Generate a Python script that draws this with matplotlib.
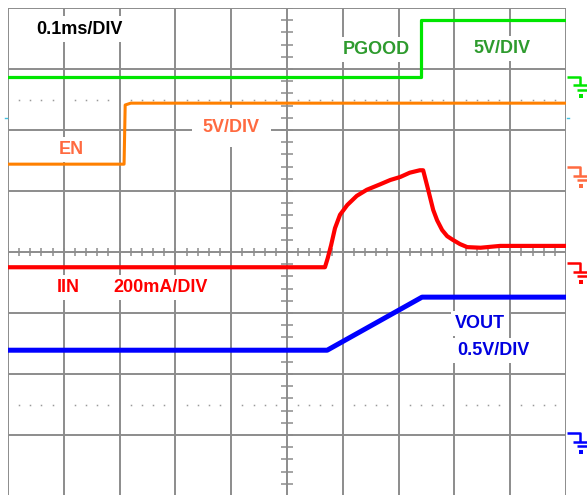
import numpy as np
import matplotlib.pyplot as plt

# all values in scope divisions: x 0..10, y -4..4 (0 = centre line)
pgood_x = [0.0, 7.40, 7.40, 10.0]
pgood_y = [2.87, 2.87, 3.80, 3.80]

en_x = [0.0, 2.08, 2.10, 2.20, 10.0]
en_y = [1.44, 1.44, 2.41, 2.44, 2.44]

iin_x = [0.0, 5.68, 5.73, 5.79, 5.86, 5.95, 6.08, 6.25, 6.43, 6.67, 6.85, 7.03,
         7.20, 7.38, 7.44, 7.53, 7.62, 7.69, 7.78, 7.87, 7.97, 8.10, 8.23, 8.47,
         8.82, 10.0]
iin_y = [-0.25, -0.25, -0.10, 0.11, 0.39, 0.61, 0.77, 0.92, 1.02, 1.11, 1.18, 1.23,
         1.30, 1.34, 1.34, 1.02, 0.69, 0.52, 0.36, 0.26, 0.20, 0.13, 0.08, 0.07,
         0.10, 0.10]

vout_x = [0.0, 5.72, 7.42, 10.0]
vout_y = [-1.61, -1.61, -0.74, -0.74]

# ground reference markers on the right edge
gnd_levels = [2.87, 1.39, -0.18, -2.97]
gnd_colors = ['#00e600', '#ff6a40', '#ff0000', '#0000ff']

GRID = '#8c8c8c'

fig = plt.figure(figsize=(5.87, 4.95), dpi=100)
ax = fig.add_axes([8 / 587, -1 / 495, 558 / 587, 488 / 495])
ax.set_xlim(0, 10)
ax.set_ylim(-4, 4)
ax.axis('off')

# graticule
ax.vlines(np.arange(0, 11), -4, 4, color=GRID, lw=1.4, zorder=1)
ax.hlines(np.arange(-4, 5), 0, 10, color=GRID, lw=1.4, zorder=1)
fine_x = np.arange(0, 10.01, 0.2)
fine_y = np.arange(-4, 4.01, 0.2)
ax.vlines(fine_x, -0.07, 0.07, color=GRID, lw=1.1, zorder=1)
ax.hlines(fine_y, 4.9, 5.1, color=GRID, lw=1.1, zorder=1)
dots = fine_x[np.abs(fine_x - np.round(fine_x)) > 0.05]
for yy in (2.5, -2.5):
    ax.plot(dots, np.full(len(dots), yy), ls='none', marker='s', ms=1.1,
            mew=0, color='#9a9a9a', zorder=1)

# traces
ax.plot(pgood_x, pgood_y, color='#00e600', lw=2.3, zorder=3)
ax.plot(en_x, en_y, color='#ff8000', lw=2.2, zorder=3)
ax.plot(iin_x, iin_y, color='#ff0000', lw=3.0, zorder=3)
ax.plot(vout_x, vout_y, color='#0000ff', lw=3.6, zorder=3)

# ground symbols
for lvl, c in zip(gnd_levels, gnd_colors):
    kw = dict(color=c, lw=1.8, clip_on=False, solid_capstyle='butt')
    ax.plot([10.02, 10.25, 10.25], [lvl, lvl, lvl - 0.14], **kw)
    ax.plot([10.13, 10.40], [lvl - 0.14, lvl - 0.14], **kw)
    ax.plot([10.19, 10.40], [lvl - 0.21, lvl - 0.21], **kw)
    ax.plot([10.27], [lvl - 0.31], marker='s', ms=2.5, mew=0, color=c, clip_on=False)

# trigger marks
ax.plot([-0.06, -0.02], [2.2, 2.2], color='#40c0e0', lw=1, clip_on=False)
ax.plot([10.02, 10.05], [2.2, 2.2], color='#40c0e0', lw=1, clip_on=False)

font = dict(family='Liberation Sans', fontsize=13, fontweight='bold', va='baseline', zorder=2)
box = dict(facecolor='white', edgecolor='none', pad=3)
ax.text(0.50, 3.58, '0.1ms/DIV', color='black', bbox=box, **font)
ax.text(6.00, 3.25, 'PGOOD', color='#2e9b2e', bbox=box, **font)
ax.text(8.35, 3.26, '5V/DIV', color='#2e9b2e', bbox=box, **font)
ax.text(0.91, 1.61, 'EN', color='#ff6a40', bbox=box, **font)
ax.text(3.49, 1.97, '5V/DIV', color='#ff6a40', bbox=dict(facecolor='white', edgecolor='none', pad=8), **font)
ax.text(0.88, -0.66, 'IIN', color='#ff0000', bbox=box, **font)
ax.text(1.88, -0.66, '200mA/DIV', color='#ff0000', bbox=box, **font)
ax.text(8.01, -1.25, 'VOUT', color='#0000e0', bbox=box, **font)
ax.text(8.05, -1.69, '0.5V/DIV', color='#0000e0', bbox=box, **font)

fig.savefig('out.png', dpi=100)
